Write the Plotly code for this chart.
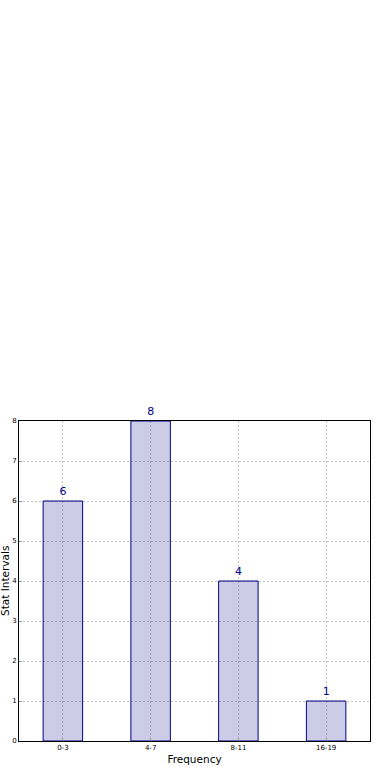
import plotly.graph_objects as go

categories = ["0-3", "4-7", "8-11", "16-19"]
values = [6, 8, 4, 1]
y_ticks = [0, 1, 2, 3, 4, 5, 6, 7, 8]

fig = go.Figure()
fig.add_trace(go.Bar(
    x=categories, y=values, width=0.45,
    marker=dict(color="rgba(0,0,128,0.2)", line=dict(color="#00008B", width=1)),
    text=[str(v) for v in values], textposition="outside",
    textfont=dict(color="#00008B", size=11, family="DejaVu Sans"),
    cliponaxis=False,
))
fig.update_layout(
    width=390, height=780,
    margin=dict(l=19, r=20, t=421, b=39),
    plot_bgcolor="white", paper_bgcolor="white",
    showlegend=False,
    font=dict(family="DejaVu Sans", color="black"),
    xaxis=dict(
        range=[-0.5, 3.5], showline=True, linecolor="black", linewidth=1, mirror=True,
        showgrid=True, gridcolor="#C4C4C4", griddash="2px,2px", gridwidth=1,
        tickfont=dict(size=7), ticks="inside", ticklen=3, tickcolor="#999",
        title=dict(text="Frequency", font=dict(size=10.5), standoff=4),
        automargin=False,
    ),
    yaxis=dict(
        range=[0, 8], tickvals=y_ticks, showline=True, linecolor="black", linewidth=1, mirror=True,
        showgrid=True, gridcolor="#C4C4C4", griddash="2px,2px", gridwidth=1,
        tickfont=dict(size=7), ticks="inside", ticklen=3, tickcolor="#999",
        zeroline=False, automargin=False,
    ),
    annotations=[dict(
        text="Stat Intervals", textangle=-90, showarrow=False,
        xref="paper", yref="paper", x=0, y=0.5, xanchor="center", yanchor="middle",
        xshift=-14, font=dict(size=10.5, color="black"),
    )],
)
fig.write_html("out.html", config={"displayModeBar": False},
               post_script="document.body.style.margin='0';")
